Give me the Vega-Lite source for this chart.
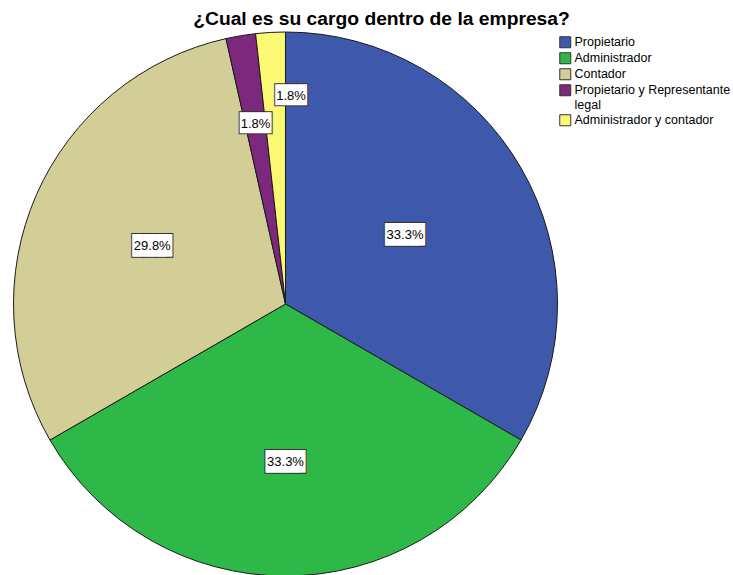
{
  "$schema": "https://vega.github.io/schema/vega-lite/v6.json",
  "width": 571,
  "height": 548,
  "autosize": {"type": "none"},
  "padding": {"left": 0, "top": 30, "right": 162, "bottom": 0},
  "background": "white",
  "title": {"text": "¿Cual es su cargo dentro de la empresa?", "font": "Liberation Sans", "fontSize": 19.25, "fontWeight": "bold", "anchor": "middle", "dx": 96, "offset": 1, "color": "#000000"},
  "data": {"values": [
    {"k": 1, "cargo": "Propietario", "n": 19, "label": "33.3%"},
    {"k": 2, "cargo": "Administrador", "n": 19, "label": "33.3%"},
    {"k": 3, "cargo": "Contador", "n": 17, "label": "29.8%"},
    {"k": 4, "cargo": "Propietario y Representante legal", "n": 1, "label": "1.8%"},
    {"k": 5, "cargo": "Administrador y contador", "n": 1, "label": "1.8%"}
  ]},
  "encoding": {
    "theta": {"field": "n", "type": "quantitative", "stack": true},
    "order": {"field": "k", "type": "quantitative"}
  },
  "layer": [
    {
      "mark": {"type": "arc", "radius": 272, "stroke": "#1a1a1a", "strokeWidth": 1},
      "encoding": {
        "color": {
          "field": "cargo", "type": "nominal",
          "scale": {"domain": ["Propietario", "Administrador", "Contador", "Propietario y Representante legal", "Administrador y contador"],
                    "range": ["#3E58AC", "#2EB848", "#D3CE97", "#7C287D", "#FBF873"]},
          "legend": {
            "title": null, "orient": "none", "legendX": 559, "legendY": 6,
            "symbolType": "square", "symbolSize": 121, "symbolStrokeColor": "#333333", "symbolStrokeWidth": 1,
            "labelFont": "Liberation Sans", "labelFontSize": 12.5, "labelColor": "#000000",
            "labelLimit": 200, "rowPadding": 0, "labelOffset": 3,
            "labelExpr": "datum.label == 'Propietario y Representante legal' ? ['Propietario y Representante', 'legal'] : datum.label"
          }
        }
      }
    },
    {
      "mark": {"type": "text", "text": "███▌", "font": "DejaVu Sans Mono", "fontSize": 19, "fill": "#333333", "stroke": "#333333", "strokeWidth": 2, "baseline": "middle", "align": "center", "radius": 138, "dx": 2.9},
      "encoding": {"opacity": {"condition": {"test": "datum.cargo == 'Propietario'", "value": 1}, "value": 0}}
    },
    {
      "mark": {"type": "text", "text": "███▌", "font": "DejaVu Sans Mono", "fontSize": 19, "fill": "white", "baseline": "middle", "align": "center", "radius": 138, "dx": 2.9},
      "encoding": {"opacity": {"condition": {"test": "datum.cargo == 'Propietario'", "value": 1}, "value": 0}}
    },
    {
      "mark": {"type": "text", "font": "Liberation Sans", "fontSize": 13, "fill": "#000000", "baseline": "middle", "align": "center", "radius": 138},
      "encoding": {"text": {"field": "label"}, "opacity": {"condition": {"test": "datum.cargo == 'Propietario'", "value": 1}, "value": 0}}
    },
    {
      "mark": {"type": "text", "text": "███▌", "font": "DejaVu Sans Mono", "fontSize": 19, "fill": "#333333", "stroke": "#333333", "strokeWidth": 2, "baseline": "middle", "align": "center", "radius": 145.5, "dx": 2.9},
      "encoding": {"opacity": {"condition": {"test": "datum.cargo == 'Contador'", "value": 1}, "value": 0}}
    },
    {
      "mark": {"type": "text", "text": "███▌", "font": "DejaVu Sans Mono", "fontSize": 19, "fill": "white", "baseline": "middle", "align": "center", "radius": 145.5, "dx": 2.9},
      "encoding": {"opacity": {"condition": {"test": "datum.cargo == 'Contador'", "value": 1}, "value": 0}}
    },
    {
      "mark": {"type": "text", "font": "Liberation Sans", "fontSize": 13, "fill": "#000000", "baseline": "middle", "align": "center", "radius": 145.5},
      "encoding": {"text": {"field": "label"}, "opacity": {"condition": {"test": "datum.cargo == 'Contador'", "value": 1}, "value": 0}}
    },
    {
      "mark": {"type": "text", "text": "███▌", "font": "DejaVu Sans Mono", "fontSize": 19, "fill": "#333333", "stroke": "#333333", "strokeWidth": 2, "baseline": "middle", "align": "center", "radius": 158, "dx": 2.9},
      "encoding": {"opacity": {"condition": {"test": "datum.cargo == 'Administrador'", "value": 1}, "value": 0}}
    },
    {
      "mark": {"type": "text", "text": "███▌", "font": "DejaVu Sans Mono", "fontSize": 19, "fill": "white", "baseline": "middle", "align": "center", "radius": 158, "dx": 2.9},
      "encoding": {"opacity": {"condition": {"test": "datum.cargo == 'Administrador'", "value": 1}, "value": 0}}
    },
    {
      "mark": {"type": "text", "font": "Liberation Sans", "fontSize": 13, "fill": "#000000", "baseline": "middle", "align": "center", "radius": 158},
      "encoding": {"text": {"field": "label"}, "opacity": {"condition": {"test": "datum.cargo == 'Administrador'", "value": 1}, "value": 0}}
    },
    {
      "mark": {"type": "text", "text": "███", "font": "DejaVu Sans Mono", "fontSize": 17.5, "fill": "#333333", "stroke": "#333333", "strokeWidth": 2, "baseline": "middle", "align": "center", "radius": 182},
      "encoding": {"opacity": {"condition": {"test": "datum.cargo == 'Propietario y Representante legal'", "value": 1}, "value": 0}}
    },
    {
      "mark": {"type": "text", "text": "███", "font": "DejaVu Sans Mono", "fontSize": 17.5, "fill": "white", "baseline": "middle", "align": "center", "radius": 182},
      "encoding": {"opacity": {"condition": {"test": "datum.cargo == 'Propietario y Representante legal'", "value": 1}, "value": 0}}
    },
    {
      "mark": {"type": "text", "font": "Liberation Sans", "fontSize": 13, "fill": "#000000", "baseline": "middle", "align": "center", "radius": 182},
      "encoding": {"text": {"field": "label"}, "opacity": {"condition": {"test": "datum.cargo == 'Propietario y Representante legal'", "value": 1}, "value": 0}}
    },
    {
      "mark": {"type": "text", "text": "███", "font": "DejaVu Sans Mono", "fontSize": 17.5, "fill": "#333333", "stroke": "#333333", "strokeWidth": 2, "baseline": "middle", "align": "center", "radius": 208.5, "dx": 17},
      "encoding": {"opacity": {"condition": {"test": "datum.cargo == 'Administrador y contador'", "value": 1}, "value": 0}}
    },
    {
      "mark": {"type": "text", "text": "███", "font": "DejaVu Sans Mono", "fontSize": 17.5, "fill": "white", "baseline": "middle", "align": "center", "radius": 208.5, "dx": 17},
      "encoding": {"opacity": {"condition": {"test": "datum.cargo == 'Administrador y contador'", "value": 1}, "value": 0}}
    },
    {
      "mark": {"type": "text", "font": "Liberation Sans", "fontSize": 13, "fill": "#000000", "baseline": "middle", "align": "center", "radius": 208.5, "dx": 17},
      "encoding": {"text": {"field": "label"}, "opacity": {"condition": {"test": "datum.cargo == 'Administrador y contador'", "value": 1}, "value": 0}}
    }
  ],
  "config": {"view": {"stroke": null}}
}
